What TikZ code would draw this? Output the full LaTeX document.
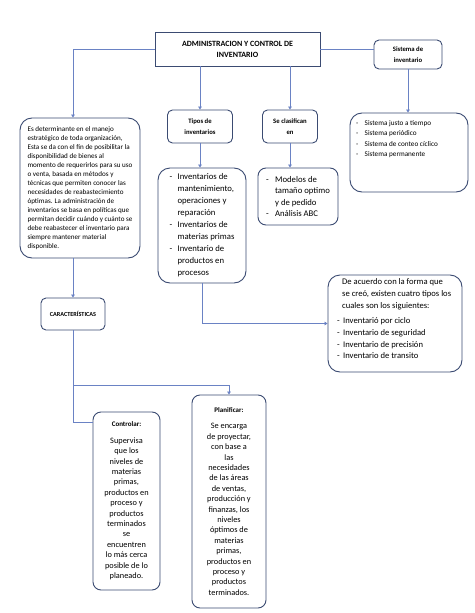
\documentclass[tikz,border=0pt]{standalone}
\usepackage{fontspec}
\setmainfont{Carlito}
\usetikzlibrary{arrows.meta}
\definecolor{bord}{HTML}{3B4B72}
\definecolor{lnk}{HTML}{6A82C4}
\begin{document}
\begin{tikzpicture}[x=1pt,y=-1pt,
  box/.style={draw=bord, line width=0.9pt, rounded corners=#1, inner sep=0pt, fill=white},
  box/.default=8pt,
  link/.style={draw=lnk, line width=0.7pt},
  arr/.style={link, -{Triangle[width=3.6pt,length=3pt]}},
  lab/.style={font=\bfseries\fontsize{6.7}{10.5}\selectfont, align=center},
  lst/.style={font=\fontsize{8.7}{12}\selectfont, align=left},
  body/.style={font=\fontsize{8.3}{10.4}\selectfont, align=center}]
\useasboundingbox[fill=white] (0,0) rectangle (474,613);

% boxes
\node[box=0pt, minimum width=165pt, minimum height=34pt, align=center,
      font=\bfseries\fontsize{8}{11}\selectfont] (main) at (237.5,49)
  {ADMINISTRACION Y CONTROL DE\\INVENTARIO};
\node[box=5pt, lab, minimum width=68pt, minimum height=29pt] (sis) at (408,54.5)
  {Sistema de\\inventario};
\node[box=12pt, minimum width=120pt, minimum height=140pt, align=left,
      font=\fontsize{7.1}{9}\selectfont] (left) at (80,188)
  {Es determinante en el manejo\\
   estratégico de toda organización,\\
   Esta se da con el fin de posibilitar la\\
   disponibilidad de bienes al\\
   momento de requerirlos para su uso\\
   o venta, basada en métodos y\\
   técnicas que permiten conocer las\\
   necesidades de reabastecimiento\\
   óptimas. La administración de\\
   inventarios se basa en políticas que\\
   permitan decidir cuándo y cuánto se\\
   debe reabastecer el inventario para\\
   siempre mantener material\\
   disponible.};
\node[box=5pt, lab, minimum width=65pt, minimum height=33pt] (tipos) at (200,126.5)
  {Tipos de\\inventarios};
\node[box=5pt, lab, minimum width=55pt, minimum height=33pt] (clas) at (290,126.5)
  {Se clasifican\\en};
\node[box=12pt, minimum width=118pt, minimum height=79pt] (sislist) at (409,152.5) {};
\node[anchor=north west, inner sep=0pt, align=left, font=\fontsize{7.2}{10.3}\selectfont]
  (sistxt) at (356,120.5)
  {\makebox[8.5pt][l]{-}Sistema justo a tiempo\\
   \makebox[8.5pt][l]{-}Sistema periódico\\
   \makebox[8.5pt][l]{-}Sistema de conteo cíclico\\
   \makebox[8.5pt][l]{-}Sistema permanente};
\node[box=12pt, lst, minimum width=88pt, minimum height=115pt] (tlist) at (202,225.5)
  {\makebox[8pt][l]{-}Inventarios de\\
   \hspace*{8pt}mantenimiento,\\
   \hspace*{8pt}operaciones y\\
   \hspace*{8pt}reparación\\
   \makebox[8pt][l]{-}Inventarios de\\
   \hspace*{8pt}materias primas\\
   \makebox[8pt][l]{-}Inventario de\\
   \hspace*{8pt}productos en\\
   \hspace*{8pt}procesos};
\node[box=8pt, lst, font=\fontsize{8.7}{11.4}\selectfont, minimum width=80pt, minimum height=57pt] (models) at (298,196.5)
  {\makebox[9pt][l]{-}Modelos de\\
   \hspace*{9pt}tamaño optimo\\
   \hspace*{9pt}y de pedido\\
   \makebox[9pt][l]{-}Análisis ABC};
\node[box=12pt, minimum width=134pt, minimum height=97pt] (deac) at (395,323.5) {};
\node[anchor=north west, inner sep=0pt, align=left, font=\fontsize{8.6}{11.7}\selectfont]
  (deactxt) at (337,278.5)
  {\hspace*{5pt}De acuerdo con la forma que\\
   \hspace*{5pt}se creó, existen cuatro tipos los\\
   \hspace*{5pt}cuales son los siguientes:\\[4pt]
   \makebox[6pt][l]{-}Inventarió por ciclo\\
   \makebox[6pt][l]{-}Inventario de seguridad\\
   \makebox[6pt][l]{-}Inventario de precisión\\
   \makebox[6pt][l]{-}Inventario de transito};
\node[box=5pt, minimum width=64pt, minimum height=32pt,
      font=\bfseries\fontsize{6.2}{8}\selectfont] (caract) at (73,314) {CARACTERÍSTICAS};
\node[box=8pt, body, minimum width=67pt, minimum height=178pt] (ctrl) at (126.5,501)
  {{\bfseries\fontsize{7}{9}\selectfont Controlar:}\\[6pt]
   Supervisa\\ que los\\ niveles de\\ materias\\ primas,\\ productos en\\ proceso y\\
   productos\\ terminados\\ se\\ encuentren\\ lo más cerca\\ posible de lo\\ planeado.};
\node[box=8pt, body, minimum width=74pt, minimum height=213pt] (plan) at (229,501.5)
  {{\bfseries\fontsize{7}{9}\selectfont Planificar:}\\[6pt]
   Se encarga\\ de proyectar,\\ con base a\\ las\\ necesidades\\ de las áreas\\ de ventas,\\
   producción y\\ finanzas, los\\ niveles\\ óptimos de\\ materias\\ primas,\\ productos en\\
   proceso y\\ productos\\ terminados.};

% connectors
\coordinate (cin) at (93,422);
\coordinate (pj) at (73,385);
\draw[arr] (main.west) -| (caract.north |- left.north);
\draw[link] (main.east) -- (sis.west |- main.east);
\draw[arr] (main.south -| tipos.north) -- (tipos.north);
\draw[arr] (main.south -| clas.north) -- (clas.north);
\draw[arr] (sis.south) -- (sis.south |- sislist.north);
\draw[arr] (tipos.south) -- (tipos.south |- tlist.north);
\draw[arr] (clas.south) -- (clas.south |- models.north);
\draw[arr] (tlist.south) |- (deac.west);
\draw[arr] (left.south -| caract.north) -- (caract.north);
\draw[link] (caract.south) |- (cin);
\draw[arr] (pj) -| (plan.north);
\end{tikzpicture}
\end{document}
